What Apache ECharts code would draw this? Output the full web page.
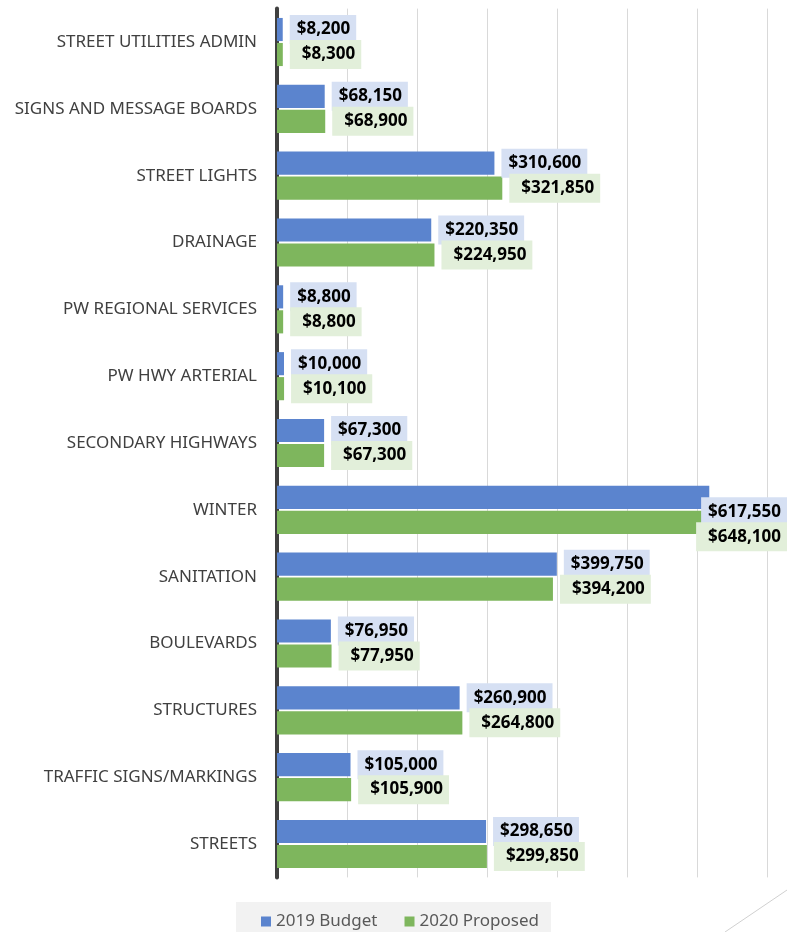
<!DOCTYPE html>
<html>
<head>
<meta charset="utf-8">
<script src="https://cdn.jsdelivr.net/npm/echarts@6/dist/echarts.min.js"></script>
<style>
  html, body { margin: 0; padding: 0; background: #fff; }
  #chart { width: 787px; height: 932px; }
</style>
</head>
<body>
<div id="chart"></div>
<script>
// categories, top to bottom
const categories = [
  'STREET UTILITIES ADMIN', 'SIGNS AND MESSAGE BOARDS', 'STREET LIGHTS', 'DRAINAGE',
  'PW REGIONAL SERVICES', 'PW HWY ARTERIAL', 'SECONDARY HIGHWAYS', 'WINTER',
  'SANITATION', 'BOULEVARDS', 'STRUCTURES', 'TRAFFIC SIGNS/MARKINGS', 'STREETS'
];
const budget2019 = [8200, 68150, 310600, 220350, 8800, 10000, 67300, 617550, 399750, 76950, 260900, 105000, 298650];
const proposed2020 = [8300, 68900, 321850, 224950, 8800, 10100, 67300, 648100, 394200, 77950, 264800, 105900, 299850];
const seriesNames = ['2019 Budget', '2020 Proposed'];

const fmt = v => '$' + v.toLocaleString('en-US');

const chart = echarts.init(document.getElementById('chart'));

const labelBase = {
  show: true,
  position: 'right',
  distance: 7,
  color: '#000',
  fontFamily: 'Open Sans',
  fontWeight: 'bold',
  fontSize: 17,
  lineHeight: 17,
  formatter: p => fmt(p.value)
};

// keep labels inside the picture, like Excel pushes them back over the bar
const keepInside = p => {
  const r = p.labelRect;
  if (r.x + r.width > 787) return { x: 787 - r.width };
  return {};
};

chart.setOption({
  animation: false,
  grid: { left: 277, right: 20, top: 8.6, bottom: 54.6 },
  legend: {
    data: seriesNames,
    left: 236,
    top: 902,
    icon: 'rect',
    itemWidth: 10,
    itemHeight: 10,
    itemGap: 27,
    backgroundColor: '#F2F2F2',
    padding: [11, 12, 6, 25],
    textStyle: { color: '#595959', fontSize: 17, fontFamily: 'Noto Sans' }
  },
  xAxis: {
    type: 'value',
    min: 0,
    max: 700000,
    interval: 100000,
    axisLabel: { show: false },
    axisLine: { show: false },
    axisTick: { show: false },
    splitLine: { show: true, lineStyle: { color: '#D9D9D9', width: 1 } }
  },
  yAxis: {
    type: 'category',
    data: categories,
    inverse: true,
    axisTick: { show: false },
    axisLine: { show: true, lineStyle: { color: '#404040', width: 4 } },
    axisLabel: { margin: 20, color: '#404040', fontSize: 17, fontFamily: 'Noto Sans' }
  },
  series: [
    {
      name: seriesNames[0],
      type: 'bar',
      data: budget2019,
      barCategoryGap: '28%',
      barGap: '8%',
      itemStyle: { color: '#5B84CE' },
      label: Object.assign({}, labelBase, {
        backgroundColor: '#D6E0F3',
        padding: [6, 6, 6, 7]
      }),
      labelLayout: keepInside
    },
    {
      name: seriesNames[1],
      type: 'bar',
      data: proposed2020,
      barCategoryGap: '28%',
      barGap: '8%',
      itemStyle: { color: '#7EB65D' },
      label: Object.assign({}, labelBase, {
        backgroundColor: '#E2EFDA',
        padding: [6, 6, 6, 12]
      }),
      labelLayout: keepInside
    }
  ],
  graphic: [
    {
      type: 'line',
      shape: { x1: 790, y1: 888, x2: 725, y2: 932 },
      style: { stroke: '#D0D0D0', lineWidth: 1 }
    }
  ]
});
</script>
</body>
</html>
